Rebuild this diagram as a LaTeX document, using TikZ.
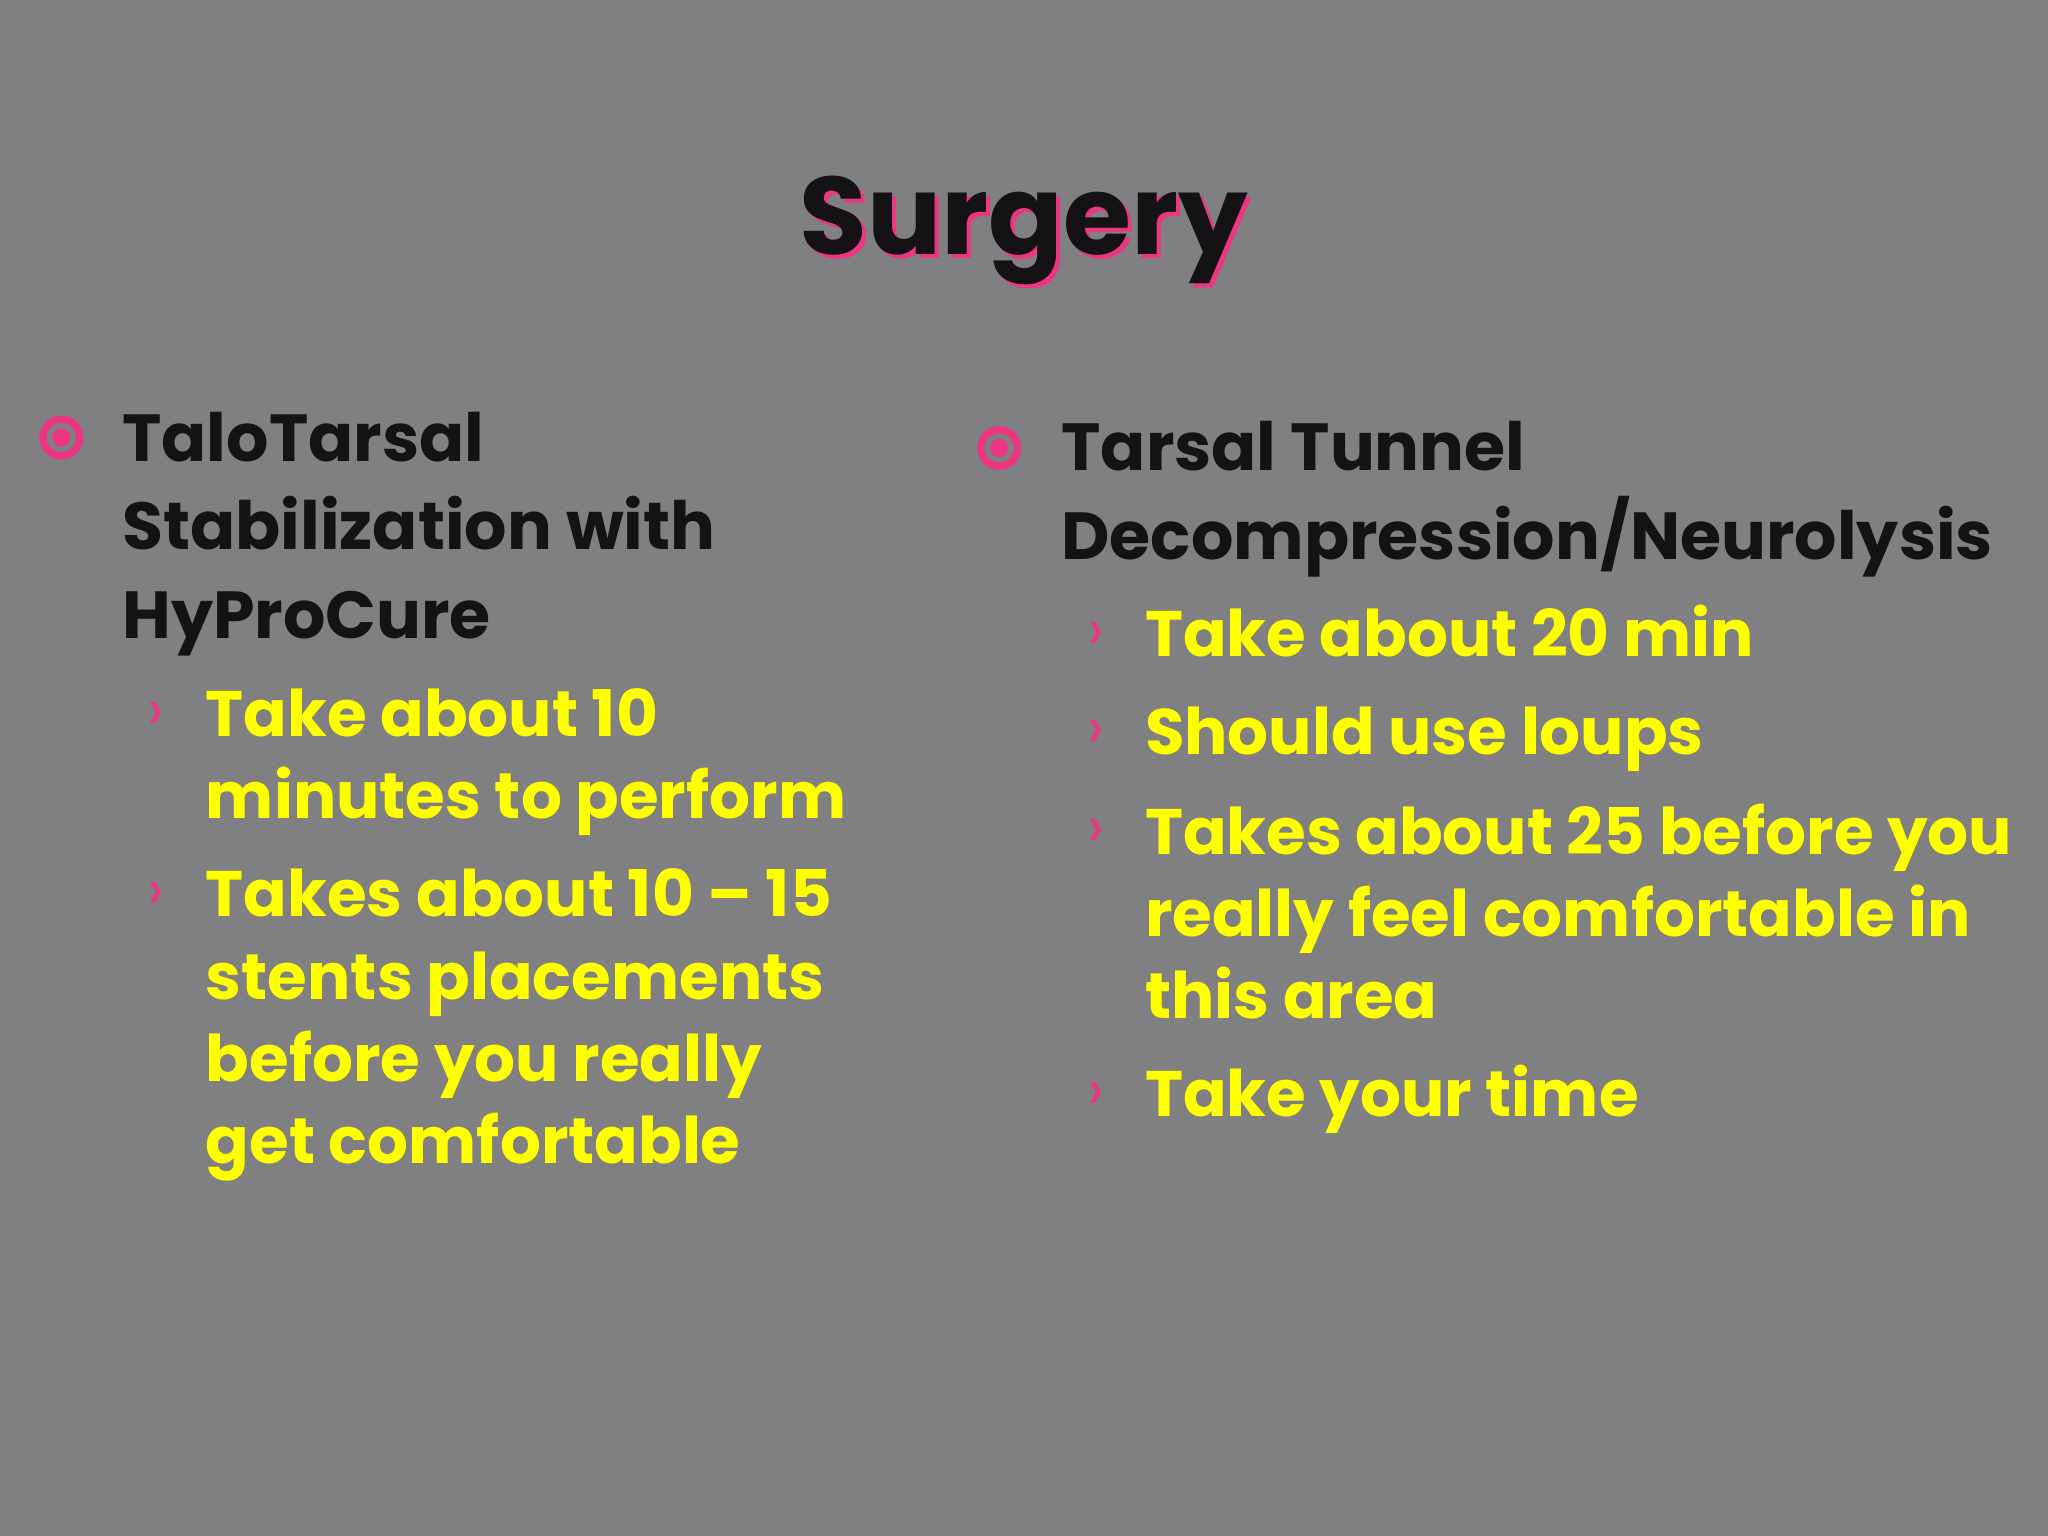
\documentclass[tikz,border=0pt]{standalone}
\usepackage{fontspec}
\setmainfont{Poppins}
\definecolor{bg}{RGB}{128,127,129}
\definecolor{pk}{RGB}{236,54,129}
\definecolor{yl}{RGB}{255,255,0}
\definecolor{tx}{RGB}{20,18,20}
\begin{document}
\begin{tikzpicture}[x=0.01cm,y=-0.01cm,
  head/.style={anchor=base west,font=\fontsize{14.5}{17}\selectfont\bfseries,text=tx,inner sep=0},
  sub/.style={anchor=base west,font=\fontsize{14}{17}\selectfont\bfseries,text=yl,inner sep=0},
  arr/.style={anchor=base west,font=\fontsize{13}{15}\selectfont,text=pk,inner sep=0}]
\fill[bg] (0,0) rectangle (1568,1176);
\useasboundingbox (0,0) rectangle (1568,1176);
\node[anchor=base,font=\fontsize{24}{28}\selectfont\bfseries,text=pk] (ts) at (787,198) {Surgery};
\node[anchor=base,font=\fontsize{24}{28}\selectfont\bfseries,text=tx] (t) at (784,195) {Surgery};
% left
\draw[pk,line width=1.6pt] (47,335) circle (14);
\fill[pk] (47,335) circle (7);
\node[head] (l1) at (93,353) {TaloTarsal};
\node[head] (l2) at (93,421) {Stabilization with};
\node[head] (l3) at (93,489) {HyProCure};
\node[arr] (a1) at (112,559) {›};
\node[sub] (s1) at (157,564) {Take about 10};
\node[sub] (s2) at (157,627) {minutes to perform};
\node[arr] (a2) at (112,697) {›};
\node[sub] (s3) at (157,702) {Takes about 10 – 15};
\node[sub] (s4) at (157,765) {stents placements};
\node[sub] (s5) at (157,828) {before you really};
\node[sub] (s6) at (157,891) {get comfortable};
% right
\draw[pk,line width=1.6pt] (765,343) circle (14);
\fill[pk] (765,343) circle (7);
\node[head] (r1) at (812,360) {Tarsal Tunnel};
\node[head] (r2) at (812,428) {Decompression/Neurolysis};
\node[arr] (b1) at (832,498) {›};
\node[sub] (q1) at (876,503) {Take about 20 min};
\node[arr] (b2) at (832,573) {›};
\node[sub] (q2) at (876,578) {Should use loups};
\node[arr] (b3) at (832,649) {›};
\node[sub] (q3) at (876,654) {Takes about 25 before you};
\node[sub] (q4) at (876,717) {really feel comfortable in};
\node[sub] (q5) at (876,780) {this area};
\node[arr] (b4) at (832,850) {›};
\node[sub] (q6) at (876,855) {Take your time};
\end{tikzpicture}
\end{document}
